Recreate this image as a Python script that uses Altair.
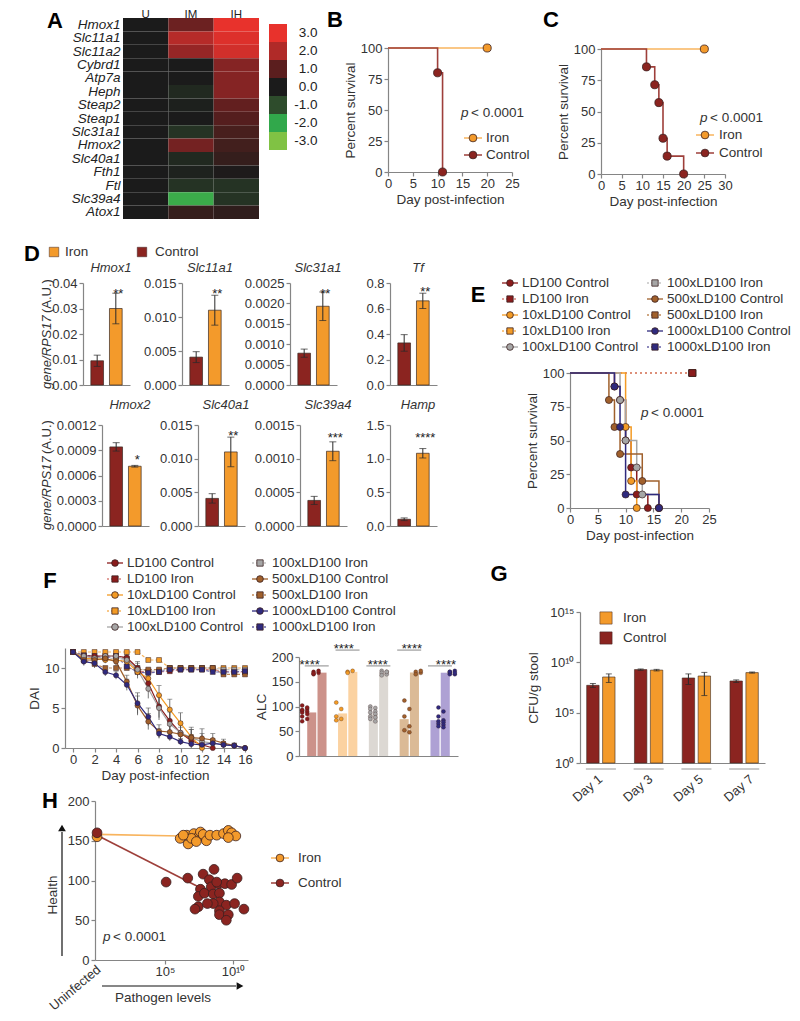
import altair as alt
import pandas as pd

# ============================ DATA ============================
# A - heat map
genes = ["Hmox1", "Slc11a1", "Slc11a2", "Cybrd1", "Atp7a", "Heph", "Steap2", "Steap1",
         "Slc31a1", "Hmox2", "Slc40a1", "Fth1", "Ftl", "Slc39a4", "Atox1"]
conditions = ["U", "IM", "IH"]
expr_U = [0.0, 0.0, 0.0, 0.0, 0.0, 0.0, 0.0, 0.0, 0.0, 0.0, 0.0, 0.0, 0.0, 0.0, 0.0]
expr_IM = [1.2, 2.1, 1.7, 0.0, 0.0, -0.3, -0.1, 0.0, -0.5, 1.3, -0.3, -0.15, -0.5, -2.1, 0.4]
expr_IH = [3.0, 2.8, 2.6, 1.5, 1.5, 1.5, 1.1, 0.9, 0.7, 0.6, 0.4, 0.05, -0.5, -0.5, 0.3]
colorbar_values = [3, 2, 1, 0, -1, -2, -3]

# B
b_ctrl_day = [0, 10, 11]
b_ctrl_surv = [100, 80, 0]
b_iron_day = [0, 20]
b_iron_surv = [100, 100]
# C
c_ctrl_day = [0, 11, 13, 14, 15, 16, 20]
c_ctrl_surv = [100, 85.7, 71.4, 57.1, 28.6, 14.3, 0]
c_iron_day = [0, 25]
c_iron_surv = [100, 100]

# D
d_genes = ["Hmox1", "Slc11a1", "Slc31a1", "Tf", "Hmox2", "Slc40a1", "Slc39a4", "Hamp"]
d_ctrl_mean = [0.0095, 0.0041, 0.00078, 0.33, 0.00094, 0.0041, 0.00038, 0.10]
d_ctrl_err = [0.0022, 0.0008, 0.0001, 0.065, 0.00005, 0.0007, 0.00006, 0.02]
d_iron_mean = [0.030, 0.0110, 0.00193, 0.66, 0.00071, 0.0110, 0.00111, 1.08]
d_iron_err = [0.006, 0.0022, 0.00035, 0.06, 0.00001, 0.0022, 0.00014, 0.07]
d_stars = ["**", "**", "**", "**", "*", "**", "***", "****"]
d_star_level = [0.037, 0.0138, 0.0023, 0.75, 0.00082, 0.0138, 0.00135, 1.35]
d_ymax = [0.04, 0.015, 0.0025, 0.8, 0.0012, 0.015, 0.0015, 1.5]
d_ticks = [[0, 0.01, 0.02, 0.03, 0.04], [0, 0.005, 0.010, 0.015],
           [0, 0.0005, 0.0010, 0.0015, 0.0020, 0.0025], [0, 0.2, 0.4, 0.6, 0.8],
           [0, 0.0003, 0.0006, 0.0009, 0.0012], [0, 0.005, 0.010, 0.015],
           [0, 0.0005, 0.0010, 0.0015], [0, 0.5, 1.0, 1.5]]
d_fmt = [".2f", ".3f", ".4f", ".1f", ".4f", ".3f", ".4f", ".1f"]

# E
doses = ["LD100", "10xLD100", "100xLD100", "500xLD100", "1000xLD100"]
e_ctrl_day = [[0, 8, 9, 10, 11, 12, 14], [0, 10, 11, 12], [0, 9, 10, 12, 13, 16],
              [0, 7, 8, 9, 13, 16], [0, 8, 9, 10, 16]]
e_ctrl_surv = [[100, 90, 80, 50, 30, 10, 0], [100, 60, 20, 0], [100, 80, 50, 30, 10, 0],
               [100, 80, 60, 40, 20, 0], [100, 90, 60, 10, 0]]
e_iron_day = [0, 22]
e_iron_surv = [100, 100]
legend_labels = ["LD100 Control", "LD100 Iron", "10xLD100 Control", "10xLD100 Iron",
                 "100xLD100 Control", "100xLD100 Iron", "500xLD100 Control", "500xLD100 Iron",
                 "1000xLD100 Control", "1000xLD100 Iron"]

# F - DAI per day (controls until death, iron groups to day 16)
f_ctrl_dai = [
    [12, 11.5, 11.5, 11.5, 11.5, 11.3, 10.0, 8.1, 5.2, 3.4, 1.9, 0.9, 0.4, 0],
    [12, 11.2, 11.2, 11.0, 11.0, 10.8, 9.5, 8.7, 6.6, 4.8, 3.1, 1.4, 0],
    [12, 11.5, 11.2, 11.5, 11.5, 11.0, 9.8, 7.4, 5.0, 3.0, 1.9, 1.3, 0.8, 0.6, 0.4, 0.3, 0],
    [12, 11.0, 11.0, 11.2, 10.8, 8.3, 5.3, 3.3, 2.1, 2.0, 1.7, 1.3, 1.2, 1.0, 0.6, 0.3, 0],
    [12, 10.8, 10.6, 9.5, 9.1, 7.9, 5.6, 3.9, 1.8, 1.4, 0.8, 0.5, 0.4, 0.6, 0.4, 0.3, 0]]
f_ctrl_err = [
    [0, 0.3, 0.3, 0.3, 0.3, 0.4, 0.8, 1.0, 1.4, 1.3, 1.2, 0.8, 0.5, 0],
    [0, 0.4, 0.6, 0.4, 0.4, 0.5, 0.8, 0.8, 1.2, 1.3, 1.3, 0.9, 0],
    [0, 0.3, 0.5, 0.3, 0.3, 0.5, 0.8, 1.2, 1.5, 1.5, 1.4, 1.3, 1.0, 0.6, 0.4, 0.3, 0],
    [0, 0.4, 0.6, 0.4, 0.5, 0.8, 1.2, 1.0, 0.8, 0.8, 0.9, 1.0, 1.2, 0.8, 0.5, 0.3, 0],
    [0, 0.5, 0.6, 0.5, 0.5, 0.7, 1.3, 1.1, 0.6, 0.5, 0.4, 0.3, 0.3, 0.4, 0.3, 0.2, 0]]
f_iron_dai = [
    [12, 11.5, 11.3, 11.5, 11.5, 11.2, 9.6, 9.5, 9.5, 9.6, 9.8, 9.8, 9.8, 9.8, 9.6, 9.5, 9.5],
    [12, 12, 12, 12, 12, 12, 12, 11.0, 11.0, 10.0, 10.0, 10.0, 10.0, 10.0, 10.0, 10.0, 10.0],
    [12, 11, 11, 11.2, 11.2, 11, 10, 9.6, 9.6, 10, 10, 10, 10, 10, 9.8, 9.8, 9.8],
    [12, 11, 10.5, 10, 10, 10, 9.8, 9.8, 9.8, 10, 10, 10, 10, 10, 9.2, 9.2, 9.2],
    [12, 11.6, 11.5, 11.3, 11.5, 10.2, 9.5, 9.4, 9.5, 9.8, 9.8, 9.8, 9.8, 9.5, 9.5, 9.5, 9.6]]
# F - ALC individual animals
alc_ctrl = [[102, 95, 92, 90, 88, 85, 80, 75, 70, 98, 93],
            [108, 95, 80, 75, 72],
            [100, 97, 95, 90, 88, 85, 80, 78, 75, 70],
            [112, 95, 80, 60, 52, 48],
            [98, 90, 80, 72, 70, 68, 65, 63, 60, 58]]
alc_iron = [[170, 168, 165, 172, 167],
            [170, 172, 168],
            [172, 170, 168, 165, 163, 170],
            [170, 168, 165, 172],
            [168, 165, 170, 172, 165, 168, 170]]

# G - CFU/g stool (mean, lower and upper error bar ends)
g_days = ["Day 1", "Day 3", "Day 5", "Day 7"]
g_ctrl_cfu = [5.2e7, 1.9e9, 2.8e8, 1.4e8]
g_ctrl_lo = [3.2e7, 1.6e9, 6.3e7, 1.0e8]
g_ctrl_hi = [7.9e7, 2.2e9, 7.1e8, 1.8e8]
g_iron_cfu = [3.5e8, 1.7e9, 4.4e8, 9.5e8]
g_iron_lo = [1.0e8, 1.4e9, 5.0e6, 8.5e8]
g_iron_hi = [7.1e8, 2.0e9, 1.0e9, 1.1e9]

# H
h_ctrl_pathogen = [1.2e5, 4.7e6, 6.3e7, 4.0e8, 1.8e8, 4.0e7, 2.8e7, 7.9e7, 2.5e8, 7.9e8, 2.5e9,
                   7.9e9, 2.0e10, 3.5e8, 1.0e9, 1.0e9, 3.5e8, 3.2e9, 1.3e10, 6.3e10, 2.8e7,
                   1.6e7, 1.0e9, 1.0e9, 4.5e9, 3.2e9, 6.3e8, 1.3e8]
h_ctrl_health = [98, 103, 108, 114, 101, 89, 80, 84, 92, 96, 96, 95, 103, 83, 84, 73, 71, 69,
                 71, 64, 67, 64, 62, 57, 57, 50, 98, 71]
h_iron_pathogen = [1.3e6, 5.0e6, 4.0e6, 1.3e7, 2.8e7, 4.0e7, 6.3e7, 1.1e8, 2.0e8, 6.3e8, 2.0e9,
                   4.5e9, 7.9e9, 1.6e10, 4.5e9, 8.9e6, 2.0e7, 2.2e6]
h_iron_health = [153, 146, 157, 159, 155, 161, 158, 150, 157, 157, 159, 163, 160, 156, 154,
                 153, 149, 157]
h_uninfected_health = {"Iron": 155, "Control": 160}
h_iron_trend_x = [1, 1.3e6]
h_iron_trend_y = [158, 156]
h_ctrl_trend_x = [1, 5e7]
h_ctrl_trend_y = [157, 90]

# ======================= STYLE / LAYOUT =======================
M = 8
W, H = 784, 1005
FONT = "Liberation Sans"
TXT = "#333333"
AXC = "#858585"
FS = 13

CTRL = "#8b2420"
IRON = "#f39a2b"
CTRL_LINE = "#9e3f3a"
IRON_LINE = "#f8b45e"
OUT = "#3a2020"
DOSE_COL = ["#8b1c1c", "#f39b25", "#a6a6a6", "#a0602c", "#2f2a7e"]
DOSE_DASH = ["#d9837c", "#f7b560", "#c4c4c4", "#c08a5a", "#6a64a8"]
ALC_BAR = ["#c98c84", "#fbd09c", "#dad6d1", "#d9b690", "#aa9cd2"]
HM_RANGE = ["#80c244", "#31a84b", "#2e4c2c", "#1b1b1b", "#5b1e1e", "#b02a28", "#e8322c"]


def P(v):
    return v - M


AXS = dict(grid=False, domainColor=AXC, tickColor=AXC, labelColor=TXT, labelFont=FONT,
           labelFontSize=FS, titleFont=FONT, titleFontSize=13.5, titleColor=TXT,
           titleFontWeight="normal", tickSize=4, labelPadding=2, domainWidth=1.2,
           tickWidth=1.2, labelOverlap=False, labelFlush=False, titlePadding=3)


def axb(ypage, **kw):
    d = dict(AXS)
    d.update(orient="bottom", offset=P(ypage) - H, labelPadding=1, titlePadding=2)
    d.update(kw)
    return alt.Axis(**d)


def axl(xpage, **kw):
    d = dict(AXS)
    d.update(orient="left", offset=-P(xpage))
    d.update(kw)
    return alt.Axis(**d)


def lin(dom, a, b):
    return alt.Scale(domain=dom, range=[P(a), P(b)], nice=False, zero=False)


def logsc(dom, a, b):
    return alt.Scale(type="log", domain=dom, range=[P(a), P(b)], nice=False)


def band(dom, a, b, pi, po):
    return alt.Scale(domain=dom, range=[P(a), P(b)], paddingInner=pi, paddingOuter=po)


PXX = dict(scale=None, axis=None)


def ptext(rows, size=FS, color=TXT, **kw):
    df = pd.DataFrame(rows, columns=["x", "y", "t"])
    df["x"] = df["x"] - M
    df["y"] = df["y"] - M
    props = dict(font=FONT, fontSize=size, color=color, baseline="middle")
    props.update(kw)
    return alt.Chart(df).mark_text(**props).encode(
        x=alt.X("x:Q", **PXX), y=alt.Y("y:Q", **PXX), text="t:N")


def prule(rows, width=1.2, dash=None):
    df = pd.DataFrame(rows, columns=["x", "y", "x2", "y2", "c"])
    for k in ["x", "y", "x2", "y2"]:
        df[k] = df[k] - M
    props = dict(strokeWidth=width)
    if dash:
        props["strokeDash"] = dash
    return alt.Chart(df).mark_rule(**props).encode(
        x=alt.X("x:Q", **PXX), y=alt.Y("y:Q", **PXX), x2="x2:Q", y2="y2:Q",
        color=alt.Color("c:N", scale=None))


def ppoint(rows, shape="circle", size=55, stroke=OUT, sw=0.8):
    df = pd.DataFrame(rows, columns=["x", "y", "f"])
    df["x"] = df["x"] - M
    df["y"] = df["y"] - M
    return alt.Chart(df).mark_point(shape=shape, size=size, filled=True, stroke=stroke,
                                    strokeWidth=sw, opacity=1).encode(
        x=alt.X("x:Q", **PXX), y=alt.Y("y:Q", **PXX), fill=alt.Fill("f:N", scale=None))


def ptext_p(x, y, size=13.5):
    return [ptext([(x, y, "p")], size=size, fontStyle="italic", align="left"),
            ptext([(x + 10, y, "< 0.0001")], size=size, align="left")]


layers = []

# ---------------- panel letters ----------------
layers.append(ptext([(55, 28, "A"), (335, 27, "B"), (551, 27, "C"), (32, 261, "D"),
                     (478, 302, "E"), (50, 588, "F"), (499, 581, "G"), (50, 808, "H")],
                    size=22, color="#000000", fontWeight="bold", align="center",
                    baseline="alphabetic"))

# ---------------- A ----------------
hm_df = pd.DataFrame({"gene": genes * 3,
                      "cond": ["U"] * 15 + ["IM"] * 15 + ["IH"] * 15,
                      "v": expr_U + expr_IM + expr_IH})
hm_scale = alt.Scale(domain=[-3, -2, -1, 0, 1, 2, 3], range=HM_RANGE)
A_X0, A_X1, A_Y0, A_Y1 = 123, 259, 18, 219
layers.append(alt.Chart(hm_df).mark_rect().encode(
    x=alt.X("cond:N", title=None, scale=band(conditions, A_X0, A_X1, 0, 0),
            axis=alt.Axis(orient="top", offset=-P(A_Y0), domain=False, ticks=False, labelAngle=0,
                          labelFont=FONT, labelFontSize=11.5, labelColor="#222222",
                          labelPadding=1, labelBaseline="alphabetic", grid=False)),
    y=alt.Y("gene:N", title=None, scale=band(genes, A_Y0, A_Y1, 0, 0),
            axis=axl(A_X0, domain=False, ticks=False, labelFontStyle="italic",
                     labelFontSize=13.5, labelColor="#222222", labelPadding=3)),
    color=alt.Color("v:Q", scale=hm_scale, legend=None)))
cb_df = pd.DataFrame({"v": colorbar_values, "lab": [f"{v:.1f}" for v in colorbar_values]})
layers.append(alt.Chart(cb_df).mark_rect().encode(
    y=alt.Y("lab:N", title=None, scale=band(list(cb_df["lab"]), 24, 150, 0, 0),
            axis=alt.Axis(orient="right", offset=P(287) - W, domain=False, ticks=False,
                          labelAlign="right", labelPadding=30, labelFont=FONT,
                          labelFontSize=13.5, labelColor="#222222", grid=False)),
    x=alt.value(P(269)), x2=alt.value(P(287)),
    color=alt.Color("v:Q", scale=hm_scale, legend=None)))


# ---------------- B & C ----------------
def survival(cd, cs, idays, isurv, xdom, xt, x0, x1, y0, y1):
    xs = lin(xdom, x0, x1)
    ys = lin([0, 100], y0, y1)
    dfc = pd.DataFrame({"d": cd, "s": cs})
    dfi = pd.DataFrame({"d": idays, "s": isurv})

    def X(ax=None):
        return alt.X("d:Q", scale=xs, axis=ax, title="Day post-infection")

    def Y(ax=None):
        return alt.Y("s:Q", scale=ys, axis=ax, title="Percent survival")
    out = [
        alt.Chart(dfi).mark_line(interpolate="step-after", color=IRON_LINE, strokeWidth=1.6).encode(
            x=X(axb(y0, values=xt)), y=Y(axl(x0, values=[0, 25, 50, 75, 100]))),
        alt.Chart(dfc).mark_line(interpolate="step-after", color=CTRL_LINE, strokeWidth=1.6).encode(
            x=X(), y=Y()),
        alt.Chart(dfc[dfc.d > 0]).mark_point(filled=True, size=65, fill=CTRL, stroke=OUT,
                                             strokeWidth=0.8, opacity=1).encode(x=X(), y=Y()),
        alt.Chart(dfi[dfi.d > 0]).mark_point(filled=True, size=65, fill=IRON, stroke=OUT,
                                             strokeWidth=0.8, opacity=1).encode(x=X(), y=Y()),
    ]
    return out


def iron_ctrl_legend(mx, y_iron, y_ctrl, tx):
    return [prule([(mx - 9, y_iron, mx + 9, y_iron, IRON_LINE),
                   (mx - 9, y_ctrl, mx + 9, y_ctrl, CTRL_LINE)], width=1.5),
            ppoint([(mx, y_iron, IRON)], size=60),
            ppoint([(mx, y_ctrl, CTRL)], size=60),
            ptext([(tx, y_iron, "Iron"), (tx, y_ctrl, "Control")], size=13.5, align="left")]


layers += survival(b_ctrl_day, b_ctrl_surv, b_iron_day, b_iron_surv, [0, 25],
                   [0, 5, 10, 15, 20, 25], 388, 512, 172, 48)
layers += ptext_p(461, 113)
layers += iron_ctrl_legend(473, 138, 155, 486)
layers += survival(c_ctrl_day, c_ctrl_surv, c_iron_day, c_iron_surv, [0, 30],
                   [0, 5, 10, 15, 20, 25, 30], 601, 725, 174, 49)
layers += ptext_p(700, 118)
layers += iron_ctrl_legend(705, 135, 153, 719)

# ---------------- D ----------------
D_BOX = [(83, 283, 385), (182, 283, 385), (290, 283, 385), (390, 283, 385),
         (102, 425, 526), (198, 425, 526), (300, 425, 526), (390, 425, 526)]
D_TITLE_Y = [268, 268, 268, 268, 405, 405, 405, 405]


def d_panel(i):
    ax_x, top, bot = D_BOX[i]
    df = pd.DataFrame({"grp": ["Control", "Iron"], "m": [d_ctrl_mean[i], d_iron_mean[i]],
                       "e": [d_ctrl_err[i], d_iron_err[i]], "f": [CTRL, IRON], "base": [0, 0]})
    df["lo"] = df["m"] - df["e"]
    df["hi"] = df["m"] + df["e"]
    xs = band(["Control", "Iron"], ax_x, ax_x + 47, 0.32, 0.42)
    ys = lin([0, d_ymax[i]], bot, top)

    def X(ax=None):
        return alt.X("grp:N", scale=xs, axis=ax, title=None)
    out = [
        alt.Chart(df).mark_bar(stroke="#3a2a22", strokeWidth=0.7).encode(
            x=X(axb(bot, labels=False, ticks=False)),
            y=alt.Y("m:Q", scale=ys, title=None, axis=axl(ax_x, values=d_ticks[i], format=d_fmt[i])),
            y2="base:Q", color=alt.Color("f:N", scale=None)),
        alt.Chart(df).mark_rule(color="#2a2a2a", strokeWidth=1).encode(
            x=X(), y=alt.Y("lo:Q", scale=ys, axis=None), y2="hi:Q"),
    ]
    for k in ("lo", "hi"):
        out.append(alt.Chart(df).mark_tick(orient="horizontal", size=7, thickness=1,
                                           color="#2a2a2a").encode(
            x=X(), y=alt.Y(f"{k}:Q", scale=ys, axis=None)))
    sdf = df[df.grp == "Iron"].assign(sl=d_star_level[i], st=d_stars[i])
    out.append(alt.Chart(sdf).mark_text(font=FONT, fontSize=13, color="#222222", dy=3).encode(
        x=X(), y=alt.Y("sl:Q", scale=ys, axis=None), text="st:N"))
    out.append(ptext([(ax_x + 28, D_TITLE_Y[i], d_genes[i])], size=13, fontStyle="italic",
                     align="center"))
    return out


for i in range(8):
    layers += d_panel(i)
# D legend + y titles
layers.append(ppoint([(54, 252, IRON), (142, 252, CTRL)], shape="square", size=90, sw=0.5))
layers.append(ptext([(65, 252, "Iron"), (155, 252, "Control")], size=13.5, align="left"))
for yc in (334, 475):
    layers.append(ptext([(47, yc + 55, "gene/RPS17")], size=13, angle=270, align="left",
                        fontStyle="italic"))
    layers.append(ptext([(47, yc + 55 - 76, "(A.U.)")], size=13, angle=270, align="left"))


# ---------------- E / F legends ----------------
def dose_legend(col_x, row_y, tdx):
    sol, das, circ, sq, txt = [], [], [], [], []
    for k, lab in enumerate(legend_labels):
        x = col_x[k // 5]
        y = row_y[k % 5]
        di = k // 2
        if k % 2 == 0:
            sol.append((x - 8, y, x + 8, y, DOSE_COL[di]))
            circ.append((x, y, DOSE_COL[di]))
        else:
            das.append((x - 8, y, x + 8, y, DOSE_DASH[di]))
            sq.append((x, y, DOSE_COL[di]))
        txt.append((x + tdx, y, lab))
    return [prule(sol, width=1.3), prule(das, width=1.3, dash=[2, 2]),
            ppoint(circ, size=45), ppoint(sq, shape="square", size=40),
            ptext(txt, size=13.5, align="left")]


layers += dose_legend([510, 655], [283, 299, 315, 331, 347], 12)
layers += dose_legend([115, 260], [563, 579, 595, 611, 627], 12)

# ---------------- E ----------------
E_X0, E_X1, E_Y0, E_Y1 = 570, 709, 508, 373
exs = lin([0, 25], E_X0, E_X1)
eys = lin([0, 100], E_Y0, E_Y1)
e_rows = []
for di, (dd, ss) in enumerate(zip(e_ctrl_day, e_ctrl_surv)):
    for d, s in zip(dd, ss):
        e_rows.append({"d": d, "s": s, "dose": doses[di], "c": DOSE_COL[di]})
e_df = pd.DataFrame(e_rows)
ei_rows = []
for di in reversed(range(5)):
    for d, s in zip(e_iron_day, e_iron_surv):
        ei_rows.append({"d": d, "s": s, "dose": doses[di], "c": DOSE_DASH[di], "m": DOSE_COL[di]})
ei_df = pd.DataFrame(ei_rows)


def EX(ax=None):
    return alt.X("d:Q", scale=exs, axis=ax, title="Day post-infection")


def EY(ax=None):
    return alt.Y("s:Q", scale=eys, axis=ax, title="Percent survival")


layers.append(alt.Chart(ei_df).mark_line(interpolate="step-after", strokeWidth=1.5,
                                         strokeDash=[2, 3]).encode(
    x=EX(axb(E_Y0, values=[0, 5, 10, 15, 20, 25])),
    y=EY(axl(E_X0, values=[0, 25, 50, 75, 100])),
    color=alt.Color("c:N", scale=None), detail="dose:N"))
layers.append(alt.Chart(e_df).mark_line(interpolate="step-after", strokeWidth=1.5).encode(
    x=EX(), y=EY(), color=alt.Color("c:N", scale=None), detail="dose:N"))
layers.append(alt.Chart(e_df[e_df.d > 0]).mark_point(filled=True, size=50, stroke=OUT,
                                                     strokeWidth=0.7, opacity=1).encode(
    x=EX(), y=EY(), fill=alt.Fill("c:N", scale=None)))
layers.append(alt.Chart(ei_df[ei_df.d > 0]).mark_point(filled=True, size=45, shape="square",
                                                       stroke=OUT, strokeWidth=0.7,
                                                       opacity=1).encode(
    x=EX(), y=EY(), fill=alt.Fill("m:N", scale=None)))
layers += ptext_p(641, 413)

# ---------------- F : DAI ----------------
fxs = lin([-0.75, 16], 65, 245)
fys = lin([0, 12.5], 748, 648)
fc_rows, fi_rows = [], []
for di in range(5):
    for d, (v, e) in enumerate(zip(f_ctrl_dai[di], f_ctrl_err[di])):
        fc_rows.append({"d": d, "v": v, "lo": v - e, "hi": v + e, "dose": doses[di],
                        "c": DOSE_COL[di]})
    for d, v in enumerate(f_iron_dai[di]):
        fi_rows.append({"d": d, "v": v, "dose": doses[di], "c": DOSE_DASH[di], "m": DOSE_COL[di]})
fc_df = pd.DataFrame(fc_rows)
fi_df = pd.DataFrame(fi_rows)


def FX(ax=None):
    return alt.X("d:Q", scale=fxs, axis=ax, title="Day post-infection")


def FY(field="v", ax=None):
    return alt.Y(f"{field}:Q", scale=fys, axis=ax, title="DAI")


fce = fc_df[(fc_df.hi - fc_df.lo) > 0]
layers.append(alt.Chart(fce).mark_rule(color="#555555", strokeWidth=0.8).encode(
    x=FX(), y=FY("lo"), y2="hi:Q"))
layers.append(alt.Chart(fce).mark_tick(orient="horizontal", size=5, thickness=0.8,
                                       color="#555555").encode(x=FX(), y=FY("hi")))
layers.append(alt.Chart(fi_df).mark_line(strokeWidth=1.2, strokeDash=[3, 2]).encode(
    x=FX(axb(748, values=list(range(0, 17, 2)))), y=FY("v", axl(65, values=[0, 5, 10])),
    color=alt.Color("c:N", scale=None), detail="dose:N"))
layers.append(alt.Chart(fc_df).mark_line(strokeWidth=1.2).encode(
    x=FX(), y=FY(), color=alt.Color("c:N", scale=None), detail="dose:N"))
layers.append(alt.Chart(fi_df).mark_point(filled=True, shape="square", size=24, stroke=OUT,
                                          strokeWidth=0.5, opacity=1).encode(
    x=FX(), y=FY(), fill=alt.Fill("m:N", scale=None)))
layers.append(alt.Chart(fc_df).mark_point(filled=True, size=26, stroke=OUT, strokeWidth=0.5,
                                          opacity=1).encode(
    x=FX(), y=FY(), fill=alt.Fill("c:N", scale=None)))

# ---------------- F : ALC ----------------
alc_cats = []
for gi, g in enumerate(doses):
    alc_cats += [g + " C", g + " I"]
    if gi < 4:
        alc_cats.append(f"gap{gi}")
axs_ = band(alc_cats, 299, 458, 0.12, 0.8)
ays = lin([0, 200], 756, 657)
alc_rows = []
for gi, g in enumerate(doses):
    for k, v in enumerate(alc_ctrl[gi]):
        alc_rows.append({"cat": g + " C", "v": v, "k": k % 2, "bar": ALC_BAR[gi], "c": DOSE_COL[gi]})
    for k, v in enumerate(alc_iron[gi]):
        alc_rows.append({"cat": g + " I", "v": v, "k": k % 2, "bar": ALC_BAR[gi], "c": DOSE_COL[gi]})
alc_df = pd.DataFrame(alc_rows)


def AX(ax=None):
    return alt.X("cat:N", scale=axs_, axis=ax, title=None)


layers.append(alt.Chart(alc_df).mark_bar(opacity=0.95).encode(
    x=AX(axb(756, labels=False, ticks=False)),
    y=alt.Y("mean(v):Q", scale=ays, title="ALC", axis=axl(299, values=[0, 50, 100, 150, 200])),
    color=alt.Color("bar:N", scale=None)))
for k, off in ((0, -2.5), (1, 2.5)):
    layers.append(alt.Chart(alc_df[alc_df.k == k]).mark_point(
        filled=True, size=16, stroke=OUT, strokeWidth=0.3, opacity=1, xOffset=off).encode(
        x=AX(), y=alt.Y("v:Q", scale=ays, axis=None), fill=alt.Fill("c:N", scale=None)))
alc_sig = pd.DataFrame({"cat": [g + " C" for g in doses],
                        "star": [190, 222, 190, 222, 190],
                        "line": [182, 214, 182, 214, 182],
                        "t": ["****"] * 5})
layers.append(alt.Chart(alc_sig).mark_tick(orient="horizontal", size=24, thickness=1,
                                           color="#555555", xOffset=5).encode(
    x=AX(), y=alt.Y("line:Q", scale=ays, axis=None)))
layers.append(alt.Chart(alc_sig).mark_text(font=FONT, fontSize=13, color="#222222", dx=5,
                                           dy=3).encode(
    x=AX(), y=alt.Y("star:Q", scale=ays, axis=None), text="t:N"))

# ---------------- G ----------------
g_cats = []
for gi, d in enumerate(g_days):
    g_cats += [d + " C", d + " I"]
    if gi < 3:
        g_cats.append(f"sp{gi}")
gxs = band(g_cats, 580, 765, 0.22, 0.42)
gys = logsc([1, 1e15], 763, 612)
g_rows = []
for gi, d in enumerate(g_days):
    g_rows.append({"cat": f"{d} C", "v": g_ctrl_cfu[gi], "lo": g_ctrl_lo[gi],
                   "hi": g_ctrl_hi[gi], "f": CTRL, "base": 1})
    g_rows.append({"cat": f"{d} I", "v": g_iron_cfu[gi], "lo": g_iron_lo[gi],
                   "hi": g_iron_hi[gi], "f": IRON, "base": 1})
g_df = pd.DataFrame(g_rows)


def GX(ax=None):
    return alt.X("cat:N", scale=gxs, axis=ax, title=None)


g_label = ("datum.value < 10 ? '10\u2070' : datum.value < 1e6 ? '10\u2075' : "
           "datum.value < 1e11 ? '10\u00b9\u2070' : '10\u00b9\u2075'")
layers.append(alt.Chart(g_df).mark_bar(stroke="#3a2a22", strokeWidth=0.6).encode(
    x=GX(axb(763, labels=False, ticks=False)),
    y=alt.Y("v:Q", scale=gys, title="CFU/g stool",
            axis=axl(580, values=[1, 1e5, 1e10, 1e15], labelExpr=g_label, labelFontSize=13,
                     titlePadding=9)),
    y2="base:Q", color=alt.Color("f:N", scale=None)))
layers.append(alt.Chart(g_df).mark_rule(color="#2a2a2a", strokeWidth=1).encode(
    x=GX(), y=alt.Y("lo:Q", scale=gys, axis=None), y2="hi:Q"))
for k in ("lo", "hi"):
    layers.append(alt.Chart(g_df).mark_tick(orient="horizontal", size=6, thickness=1,
                                            color="#2a2a2a").encode(
        x=GX(), y=alt.Y(f"{k}:Q", scale=gys, axis=None)))
g_lab_df = pd.DataFrame({"cat": [d + " C" for d in g_days], "t": g_days, "y": [1, 1, 1, 1]})
layers.append(alt.Chart(g_lab_df).mark_tick(orient="horizontal", size=30, thickness=1.2,
                                            color="#808080", xOffset=8, yOffset=6).encode(
    x=GX(), y=alt.Y("y:Q", scale=gys, axis=None)))
layers.append(alt.Chart(g_lab_df).mark_text(font=FONT, fontSize=13, color=TXT, angle=320,
                                            align="right", baseline="middle", dx=0,
                                            dy=19).encode(
    x=GX(), y=alt.Y("y:Q", scale=gys, axis=None), text="t:N"))
layers.append(ppoint([(606, 618, IRON), (606, 638, CTRL)], shape="square", size=150, sw=0.5))
layers.append(ptext([(623, 618, "Iron"), (623, 638, "Control")], size=13.5, align="left"))

# ---------------- H ----------------
hxs = logsc([10 ** -0.15, 10 ** 11.1], 95, 248)
hys = lin([0, 200], 960, 801)
h_label = "datum.value < 1e6 ? '10\u2075' : '10\u00b9\u2070'"


def HX(field="x", ax=None):
    return alt.X(f"{field}:Q", scale=hxs, axis=ax, title=None)


def HY(field="y", ax=None):
    return alt.Y(f"{field}:Q", scale=hys, axis=ax, title=None)


h_trend = pd.DataFrame({"x": h_iron_trend_x + h_ctrl_trend_x, "y": h_iron_trend_y + h_ctrl_trend_y,
                        "g": ["Iron", "Iron", "Control", "Control"],
                        "c": [IRON_LINE, IRON_LINE, CTRL_LINE, CTRL_LINE]})
layers.append(alt.Chart(h_trend).mark_line(strokeWidth=1.6).encode(
    x=HX("x", axb(960, values=[1e5, 1e10], labelExpr=h_label)),
    y=HY("y", axl(95, values=[0, 50, 100, 150, 200])),
    color=alt.Color("c:N", scale=None), detail="g:N"))
h_pts = pd.DataFrame({"x": h_iron_pathogen + h_ctrl_pathogen + [1, 1],
                      "y": h_iron_health + h_ctrl_health + [h_uninfected_health["Iron"],
                                                            h_uninfected_health["Control"]],
                      "f": [IRON] * len(h_iron_health) + [CTRL] * len(h_ctrl_health) + [IRON, CTRL]})
layers.append(alt.Chart(h_pts).mark_point(filled=True, size=95, stroke=OUT, strokeWidth=0.8,
                                          opacity=1).encode(
    x=HX(), y=HY(), fill=alt.Fill("f:N", scale=None)))
layers += ptext_p(103, 937)
layers.append(ptext([(99, 968, "Uninfected")], size=13, angle=320, align="right"))
layers.append(prule([(102, 986, 236, 986, "#111111"), (62, 956, 62, 832, "#111111")], width=1.2))
layers.append(ppoint([(240, 986, "#111111")], shape="triangle-right", size=60, sw=0))
layers.append(ppoint([(62, 828, "#111111")], shape="triangle-up", size=60, sw=0))
layers.append(ptext([(163, 998, "Pathogen levels")], size=13.5, align="center"))
layers.append(ptext([(53, 895, "Health")], size=13.5, angle=270, align="center"))
layers += iron_ctrl_legend(280, 858, 883, 298)

chart = alt.layer(*layers).resolve_scale(
    x="independent", y="independent", color="independent", fill="independent"
).resolve_axis(x="independent", y="independent").properties(
    width=W, height=H, padding=0, autosize=alt.AutoSizeParams(type="none")
).configure_view(stroke=None)

chart.save("out.html", embed_options={"renderer": "svg", "actions": False})
